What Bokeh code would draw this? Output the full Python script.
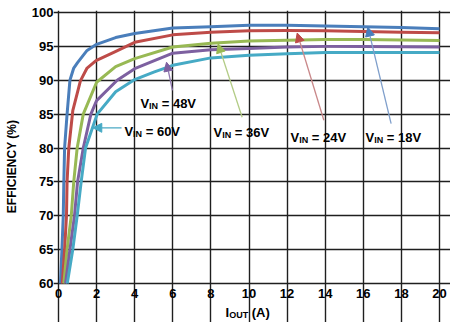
from bokeh.plotting import figure
from bokeh.models import Range1d, FixedTicker, Label, Arrow, NormalHead
from bokeh.embed import file_html
from bokeh.resources import INLINE

# ---- data ----
x_18v = [0.10, 0.18, 0.25, 0.28, 0.32, 0.45, 0.60, 0.80, 1.00, 1.50, 2.00, 3.00, 4.00, 6.00, 8.00, 10.00, 12.00, 14.00, 16.00, 18.00, 20.00]
y_18v = [60.0, 65.0, 70.0, 75.0, 80.0, 85.0, 90.0, 91.8, 92.6, 94.4, 95.3, 96.3, 96.9, 97.7, 97.9, 98.1, 98.1, 98.0, 97.9, 97.8, 97.6]

x_24v = [0.20, 0.32, 0.42, 0.45, 0.54, 0.75, 1.15, 1.50, 1.97, 2.90, 4.00, 6.00, 8.00, 10.00, 12.00, 14.00, 16.00, 18.00, 20.00]
y_24v = [60.0, 65.0, 70.0, 75.0, 80.0, 85.5, 89.9, 91.8, 92.9, 94.1, 95.6, 96.7, 97.1, 97.3, 97.35, 97.3, 97.2, 97.1, 97.0]

x_36v = [0.28, 0.45, 0.67, 0.80, 0.98, 1.30, 2.00, 3.00, 4.00, 6.00, 8.00, 10.00, 12.00, 14.00, 16.00, 18.00, 20.00]
y_36v = [60.0, 65.0, 70.0, 75.0, 80.0, 85.0, 89.7, 92.0, 93.2, 94.9, 95.45, 95.8, 95.9, 96.0, 96.0, 95.95, 95.85]

x_48v = [0.37, 0.60, 0.84, 1.00, 1.30, 1.70, 2.00, 3.08, 4.00, 6.00, 8.00, 10.00, 12.00, 14.00, 16.00, 18.00, 20.00]
y_48v = [60.0, 65.0, 70.0, 75.0, 80.0, 85.0, 87.0, 90.0, 91.7, 94.0, 94.5, 94.7, 94.9, 95.0, 95.0, 94.95, 94.9]

x_60v = [0.46, 0.75, 0.98, 1.19, 1.42, 2.03, 3.00, 4.00, 5.00, 6.00, 8.00, 10.00, 12.00, 14.00, 16.00, 18.00, 20.00]
y_60v = [60.0, 65.0, 70.0, 75.0, 80.0, 85.0, 88.3, 90.1, 91.2, 92.2, 93.3, 93.7, 93.9, 94.1, 94.1, 94.1, 94.1]

x_ticks = [0, 2, 4, 6, 8, 10, 12, 14, 16, 18, 20]
y_ticks = [60, 65, 70, 75, 80, 85, 90, 95, 100]

series_names = ["18V", "24V", "36V", "48V", "60V"]
series_colors = ["#4a7ebb", "#be4b48", "#98b954", "#7d60a0", "#46aac5"]
arrow_line_colors = ["#7f9fcb", "#c9888a", "#b3cc86", "#8f78b0", "#4aa9c4"]

# label anchor (left, baseline) and arrow start/end in data coords
label_pos = {"18V": (16.12, 81.5), "24V": (12.18, 81.5), "36V": (8.14, 82.3),
             "48V": (4.30, 86.64), "60V": (3.46, 82.44)}
arrow_pos = {"18V": (17.46, 83.6, 16.24, 97.83), "24V": (13.93, 84.1, 12.53, 96.97),
             "36V": (9.64, 84.55, 8.38, 95.38), "48V": (5.98, 88.5, 5.67, 92.66),
             "60V": (3.31, 82.98, 1.80, 82.98)}
x_title_pos = (8.77, 55.72)

FONT = "Liberation Sans"

# ---- layout: the data box 0..20 x 60..100 sits at px 58..439 x 12..283 ----
W, H = 450, 322
BOX_L, BOX_R, BOX_T, BOX_B = 58, 439, 12, 283
XMIN, XMAX, YMIN, YMAX = 0, 20, 60, 100
BORDER_L, BORDER_R, BORDER_T = 53, 0, 10
xpx = (BOX_R - BOX_L) / (XMAX - XMIN)
ypx = (BOX_B - BOX_T) / (YMAX - YMIN)
x_lo = XMIN - (BOX_L - BORDER_L) / xpx
x_hi = XMAX + ((W - BORDER_R) - BOX_R) / xpx
y_hi = YMAX + (BOX_T - BORDER_T) / ypx
y_lo = YMAX - (H - BOX_T) / ypx

p = figure(width=W, height=H, output_backend="svg", toolbar_location=None,
           x_range=Range1d(x_lo, x_hi), y_range=Range1d(y_lo, y_hi),
           min_border_left=BORDER_L, min_border_right=BORDER_R,
           min_border_top=BORDER_T, min_border_bottom=0)

p.background_fill_color = "white"
p.border_fill_color = "white"
p.outline_line_color = None

p.xaxis.ticker = FixedTicker(ticks=x_ticks)
p.yaxis.ticker = FixedTicker(ticks=y_ticks)
p.xaxis.fixed_location = YMIN
p.yaxis.bounds = (YMIN, YMAX)
for ax in (p.xaxis, p.yaxis):
    ax.axis_line_color = None
    ax.major_tick_line_color = None
    ax.minor_tick_line_color = None
    ax.major_tick_out = 0
    ax.major_tick_in = 0
    ax.minor_tick_out = 0
    ax.minor_tick_in = 0
    ax.major_label_text_font = FONT
    ax.major_label_text_font_style = "bold"
    ax.major_label_text_font_size = "13px"
    ax.major_label_text_color = "black"
p.xaxis.major_label_standoff = 5
p.yaxis.major_label_standoff = 0

p.yaxis.axis_label = "EFFICIENCY (%)"
p.yaxis.axis_label_text_font = FONT
p.yaxis.axis_label_text_font_style = "bold"
p.yaxis.axis_label_text_font_size = "12px"
p.yaxis.axis_label_text_color = "black"
p.yaxis.axis_label_standoff = 10

p.xgrid.grid_line_color = "#1f1f1f"
p.ygrid.grid_line_color = "#1f1f1f"
p.xgrid.grid_line_width = 1.4
p.ygrid.grid_line_width = 1.4
p.xgrid.bounds = (YMIN, YMAX)
p.ygrid.bounds = (XMIN, XMAX)

xs = [x_18v, x_24v, x_36v, x_48v, x_60v]
ys = [y_18v, y_24v, y_36v, y_48v, y_60v]
for xv, yv, c in zip(xs, ys, series_colors):
    p.line(xv, yv, line_color=c, line_width=3, line_join="round")

WIDTHS = {"V": 0.667, "I": 0.278, "N": 0.722, "O": 0.778, "U": 0.722, "T": 0.611, " ": 0.278}


def add_sub_label(x, y, main, sub, rest, size=13, sub_size=9, color="black"):
    w_main = WIDTHS[main] * size
    w_sub = sum(WIDTHS[ch] for ch in sub) * sub_size
    w_space = WIDTHS[" "] * size
    common = dict(text_font=FONT, text_font_style="bold", text_color=color,
                  text_baseline="alphabetic", text_align="left")
    p.add_layout(Label(x=x, y=y, text=main, text_font_size=f"{size}px", **common))
    p.add_layout(Label(x=x, y=y, x_offset=w_main, y_offset=-2.5, text=sub,
                       text_font_size=f"{sub_size}px", **common))
    p.add_layout(Label(x=x, y=y, x_offset=w_main + w_sub + w_space, text=rest,
                       text_font_size=f"{size}px", **common))


for name, c, lc in zip(series_names, series_colors, arrow_line_colors):
    lx, ly = label_pos[name]
    add_sub_label(lx, ly, "V", "IN", "= " + name)
    x0, y0, x1, y1 = arrow_pos[name]
    p.add_layout(Arrow(x_start=x0, y_start=y0, x_end=x1, y_end=y1,
                       line_color=lc, line_width=1.3,
                       end=NormalHead(size=9, fill_color=c, line_color=c)))

# x-axis title with subscript
add_sub_label(x_title_pos[0], x_title_pos[1], "I", "OUT", "(A)")

open("out.html", "w").write(file_html(p, INLINE))
